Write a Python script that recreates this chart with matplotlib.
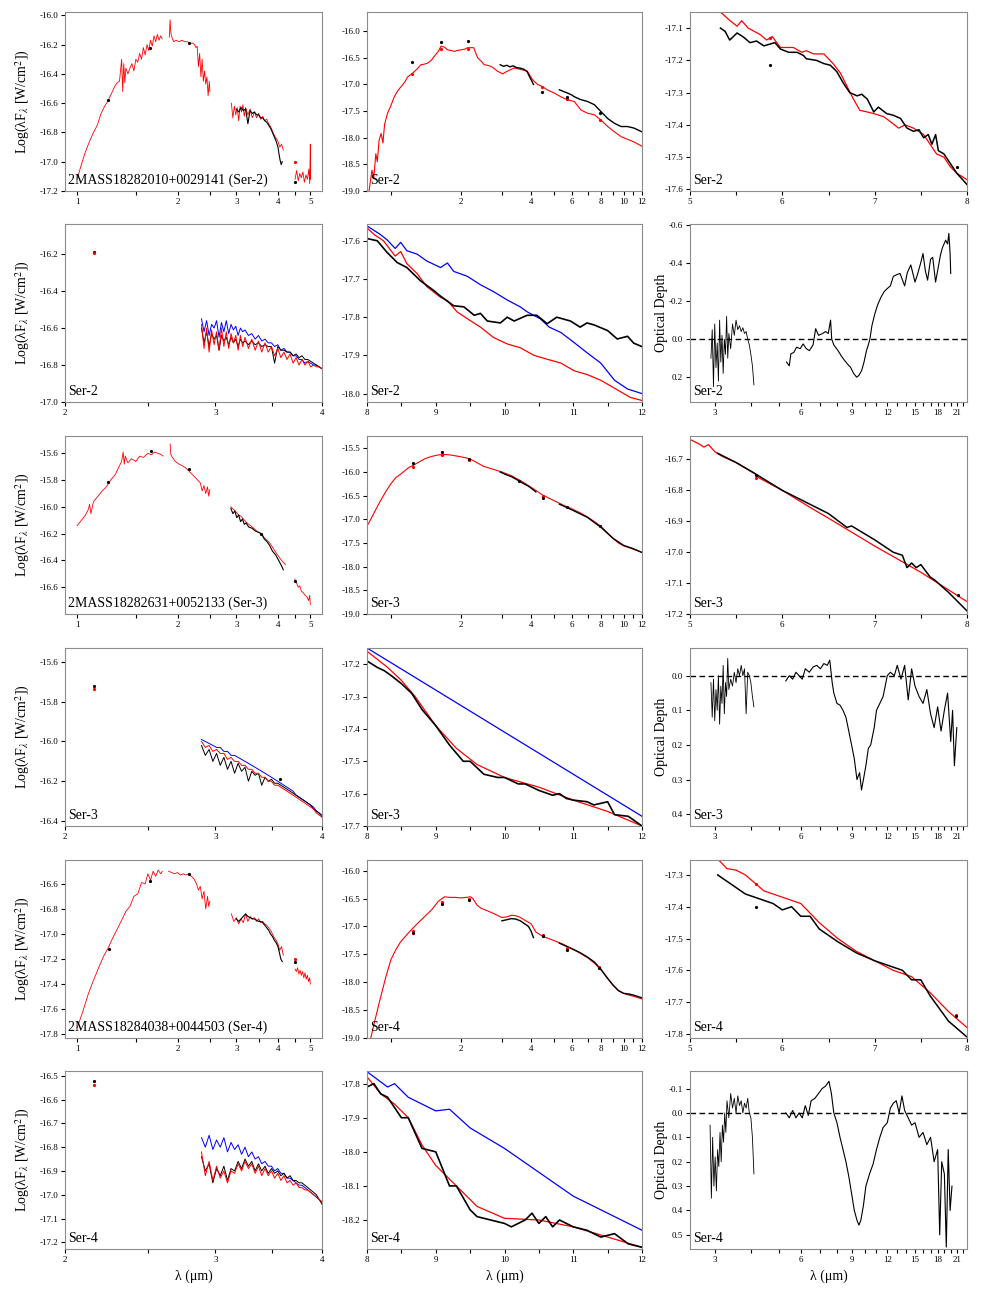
import matplotlib
matplotlib.use('Agg')
import matplotlib.pyplot as plt
from matplotlib.ticker import NullLocator

plt.rcParams['font.family'] = ['Liberation Serif', 'DejaVu Serif']
plt.rcParams['mathtext.fontset'] = 'stix'
plt.rcParams['axes.unicode_minus'] = False

RED, BLUE, BLK = '#ff0000', '#0000ff', 'black'

# ---------------- Ser-2 ----------------
# near-IR spectrum (panel 1,1)
s2_j_wl = [1.00, 1.03, 1.06, 1.09, 1.12, 1.15, 1.18, 1.21, 1.24, 1.27, 1.30, 1.32, 1.34, 1.36, 1.37, 1.38, 1.39, 1.40, 1.42, 1.44,
           1.46, 1.48, 1.50, 1.52, 1.54, 1.56, 1.58, 1.60, 1.62, 1.64, 1.66, 1.68, 1.70, 1.72, 1.74, 1.76, 1.78, 1.80]
s2_j_fl = [-17.12, -17.02, -16.93, -16.86, -16.80, -16.75, -16.67, -16.62, -16.58, -16.53, -16.48, -16.46, -16.45, -16.30, -16.52, -16.33, -16.46, -16.36, -16.40, -16.36,
           -16.33, -16.38, -16.30, -16.32, -16.26, -16.30, -16.22, -16.27, -16.20, -16.24, -16.17, -16.21, -16.14, -16.18, -16.13, -16.17, -16.14, -16.16]
s2_k_wl = [1.89, 1.90, 1.91, 1.93, 1.95, 1.98, 2.02, 2.06, 2.10, 2.14, 2.18, 2.22, 2.25, 2.27, 2.29, 2.31, 2.33, 2.35, 2.37, 2.39,
           2.41, 2.43, 2.45, 2.47, 2.49, 2.50]
s2_k_fl = [-16.15, -16.03, -16.12, -16.16, -16.18, -16.17, -16.18, -16.17, -16.18, -16.18, -16.19, -16.19, -16.20, -16.22, -16.21, -16.35, -16.26, -16.42, -16.30, -16.45,
           -16.38, -16.47, -16.42, -16.55, -16.45, -16.52]
s2_l_wl = [2.90, 2.93, 2.96, 2.99, 3.02, 3.05, 3.08, 3.11, 3.14, 3.17, 3.20, 3.25, 3.30, 3.35, 3.40, 3.45, 3.50, 3.55, 3.60, 3.65,
           3.70, 3.75, 3.80, 3.85, 3.90, 3.95, 4.00, 4.05, 4.10, 4.15]
s2_l_fl = [-16.60, -16.70, -16.62, -16.68, -16.63, -16.72, -16.62, -16.66, -16.61, -16.69, -16.63, -16.68, -16.64, -16.70, -16.66, -16.70, -16.67, -16.71, -16.69, -16.72,
           -16.71, -16.74, -16.76, -16.79, -16.82, -16.84, -16.86, -16.90, -16.88, -16.92]
s2_lb_wl = [3.00, 3.05, 3.10, 3.15, 3.20, 3.25, 3.30, 3.35, 3.40, 3.45, 3.50, 3.55, 3.60, 3.65, 3.70, 3.75, 3.80, 3.85, 3.90, 3.95,
            4.00, 4.03, 4.06, 4.09, 4.12]
s2_lb_fl = [-16.64, -16.66, -16.63, -16.65, -16.64, -16.74, -16.65, -16.67, -16.66, -16.68, -16.68, -16.70, -16.70, -16.72, -16.73, -16.75, -16.77, -16.80, -16.83, -16.86,
            -16.90, -16.95, -16.99, -17.02, -17.00]
s2_m_wl = [4.50, 4.55, 4.60, 4.65, 4.70, 4.75, 4.80, 4.85, 4.90, 4.95, 4.98, 5.00, 5.01]
s2_m_fl = [-17.12, -17.06, -17.13, -17.08, -17.11, -17.07, -17.14, -17.09, -17.12, -17.05, -17.15, -16.88, -17.12]
s2_nir_dot_wl = [1.235, 1.65, 2.17, 4.50]
s2_nir_dot_fl = [-16.58, -16.22, -16.19, -17.14]
s2_nir_rdot_wl = [4.50]
s2_nir_rdot_fl = [-17.00]

# full SED (panel 1,2)
s2_mod_wl = [0.806, 0.83, 0.845, 0.862, 0.875, 0.89, 0.909, 0.925, 0.94, 0.968, 1.0, 1.035, 1.07, 1.107, 1.15, 1.18, 1.232, 1.29, 1.346, 1.39,
             1.439, 1.49, 1.538, 1.6, 1.643, 1.70, 1.753, 1.81, 1.874, 1.94, 2.0, 2.07, 2.136, 2.2, 2.27, 2.36, 2.44, 2.52, 2.6, 2.69,
             2.78, 2.87, 3.02, 3.17, 3.39, 3.62, 3.86, 4.06, 4.27, 4.48, 4.7, 5.03, 5.37, 5.74, 6.14, 6.56, 7.0, 7.49, 8.0, 8.55,
             9.14, 9.76, 10.4, 11.1, 12.0]
s2_mod_fl = [-19.0, -18.61, -18.75, -18.30, -18.45, -18.05, -17.92, -18.1, -17.75, -17.54, -17.40, -17.23, -17.12, -17.04, -16.95, -16.86, -16.80, -16.72, -16.63, -16.62,
             -16.60, -16.55, -16.47, -16.38, -16.28, -16.30, -16.35, -16.36, -16.38, -16.36, -16.35, -16.34, -16.31, -16.31, -16.31, -16.50, -16.56, -16.63, -16.64, -16.66,
             -16.70, -16.75, -16.80, -16.75, -16.69, -16.72, -16.75, -16.91, -17.0, -17.04, -17.1, -17.16, -17.23, -17.29, -17.32, -17.48, -17.54, -17.57, -17.67, -17.79,
             -17.89, -17.98, -18.03, -18.08, -18.16]
s2_sed_l_wl = [2.95, 3.05, 3.15, 3.25, 3.35, 3.45, 3.55, 3.65, 3.75, 3.85, 3.95, 4.05, 4.10]
s2_sed_l_fl = [-16.63, -16.66, -16.64, -16.67, -16.65, -16.68, -16.69, -16.70, -16.72, -16.76, -16.86, -16.95, -17.0]
s2_irs_wl = [5.3, 5.5, 5.74, 6.0, 6.14, 6.5, 7.0, 7.49, 8.0, 8.55, 9.14, 9.76, 10.4, 11.1, 12.0]
s2_irs_fl = [-17.10, -17.13, -17.16, -17.20, -17.23, -17.28, -17.32, -17.38, -17.51, -17.64, -17.73, -17.79, -17.79, -17.82, -17.89]
s2_sed_dot_wl = [1.232, 1.643, 2.15, 4.48, 5.74, 7.9]
s2_sed_dot_fl = [-16.58, -16.21, -16.19, -17.14, -17.23, -17.54]
s2_sed_rdot_fl = [-16.80, -16.33, -16.33, -17.04, -17.27, -17.67]

# 5-8 micron (panel 1,3)
s2_58_rwl = [5.33, 5.43, 5.51, 5.56, 5.63, 5.76, 5.83, 5.89, 5.98, 6.12, 6.21, 6.26, 6.34, 6.45, 6.55, 6.63, 6.70, 6.77, 6.84, 6.92,
             6.99, 7.1, 7.17, 7.26, 7.33, 7.42, 7.53, 7.6, 7.67, 7.75, 7.82, 7.89, 8.0]
s2_58_rfl = [-17.05, -17.076, -17.094, -17.077, -17.10, -17.12, -17.137, -17.126, -17.16, -17.16, -17.175, -17.17, -17.18, -17.18, -17.21, -17.24, -17.28, -17.32, -17.355, -17.36,
             -17.365, -17.375, -17.39, -17.41, -17.40, -17.41, -17.43, -17.46, -17.49, -17.50, -17.53, -17.55, -17.57]
s2_58_bwl = [5.33, 5.38, 5.43, 5.51, 5.58, 5.65, 5.72, 5.80, 5.92, 5.98, 6.07, 6.16, 6.23, 6.26, 6.37, 6.45, 6.52, 6.59, 6.66, 6.73,
             6.81, 6.86, 6.92, 6.99, 7.04, 7.13, 7.2, 7.28, 7.35, 7.42, 7.48, 7.53, 7.58, 7.62, 7.66, 7.69, 7.75, 7.82, 7.89, 8.0]
s2_58_bfl = [-17.10, -17.11, -17.137, -17.115, -17.128, -17.145, -17.14, -17.155, -17.145, -17.165, -17.175, -17.175, -17.185, -17.195, -17.20, -17.21, -17.215, -17.235, -17.27, -17.30,
             -17.31, -17.305, -17.32, -17.36, -17.345, -17.365, -17.37, -17.38, -17.41, -17.42, -17.415, -17.44, -17.43, -17.46, -17.43, -17.48, -17.49, -17.52, -17.55, -17.585]
s2_58_dot_wl = [5.87, 7.89]
s2_58_dot_fl = [-17.215, -17.53]
s2_58_rdot_wl = [5.87]
s2_58_rdot_fl = [-17.13]

# 2-4 micron zoom (panel 2,1)
s2z_wl = [2.89, 2.91, 2.93, 2.95, 2.97, 2.99, 3.01, 3.03, 3.05, 3.07, 3.09, 3.11, 3.13, 3.15, 3.17, 3.19, 3.21, 3.23, 3.25, 3.28,
          3.31, 3.34, 3.37, 3.40, 3.43, 3.46, 3.49, 3.52, 3.55, 3.58, 3.61, 3.64, 3.67, 3.70, 3.73, 3.76, 3.79, 3.82, 3.85, 3.88,
          3.91, 3.94, 3.97, 4.00]
s2z_blue = [-16.55, -16.62, -16.56, -16.64, -16.58, -16.60, -16.56, -16.65, -16.57, -16.62, -16.56, -16.63, -16.58, -16.61, -16.59, -16.64, -16.60, -16.62, -16.61, -16.64,
            -16.63, -16.66, -16.64, -16.67, -16.66, -16.68, -16.68, -16.70, -16.69, -16.72, -16.71, -16.73, -16.73, -16.75, -16.75, -16.77, -16.77, -16.79, -16.78, -16.79,
            -16.80, -16.80, -16.81, -16.82]
s2z_red = [-16.58, -16.71, -16.60, -16.73, -16.61, -16.69, -16.62, -16.72, -16.60, -16.70, -16.62, -16.71, -16.63, -16.68, -16.64, -16.72, -16.64, -16.70, -16.65, -16.71,
           -16.66, -16.72, -16.67, -16.73, -16.68, -16.73, -16.70, -16.75, -16.71, -16.76, -16.73, -16.77, -16.74, -16.79, -16.76, -16.80, -16.77, -16.80, -16.78, -16.81,
           -16.80, -16.81, -16.81, -16.82]
s2z_black = [-16.60, -16.68, -16.62, -16.70, -16.63, -16.66, -16.64, -16.72, -16.64, -16.67, -16.65, -16.69, -16.65, -16.68, -16.66, -16.70, -16.66, -16.68, -16.67, -16.69,
             -16.67, -16.69, -16.68, -16.70, -16.69, -16.70, -16.70, -16.79, -16.70, -16.72, -16.72, -16.73, -16.73, -16.75, -16.74, -16.76, -16.75, -16.77, -16.77, -16.78,
             -16.79, -16.80, -16.81, -16.82]
s2z_dot = (2.16, -16.19)
s2z_rdot = (2.16, -16.195)

# 8-12 micron (panel 2,2)
s2_812_bwl = [8.0, 8.19, 8.29, 8.41, 8.49, 8.58, 8.73, 8.87, 9.07, 9.17, 9.26, 9.46, 9.65, 9.84, 10.04, 10.23, 10.33, 10.52, 10.65, 10.82,
              11.01, 11.2, 11.4, 11.6, 11.79, 12.0]
s2_812_blue = [-17.561, -17.583, -17.597, -17.62, -17.604, -17.626, -17.635, -17.653, -17.67, -17.658, -17.68, -17.693, -17.715, -17.733, -17.755, -17.773, -17.786, -17.804, -17.826, -17.84,
               -17.866, -17.893, -17.92, -17.965, -17.988, -18.0]
s2_812_rwl = [8.0, 8.1, 8.24, 8.41, 8.49, 8.58, 8.73, 8.87, 9.07, 9.17, 9.31, 9.46, 9.65, 9.84, 10.04, 10.23, 10.43, 10.62, 10.82, 11.01,
              11.2, 11.4, 11.64, 11.83, 12.0]
s2_812_red = [-17.566, -17.583, -17.60, -17.64, -17.628, -17.66, -17.686, -17.72, -17.748, -17.757, -17.786, -17.804, -17.826, -17.853, -17.87, -17.88, -17.90, -17.91, -17.92, -17.94,
              -17.95, -17.965, -17.99, -18.01, -18.018]
s2_812_kwl = [8.0, 8.15, 8.29, 8.44, 8.58, 8.78, 8.97, 9.07, 9.26, 9.41, 9.56, 9.65, 9.75, 9.94, 10.04, 10.14, 10.33, 10.47, 10.62, 10.76,
              10.96, 11.1, 11.2, 11.3, 11.5, 11.64, 11.79, 11.88, 12.0]
s2_812_black = [-17.594, -17.60, -17.63, -17.657, -17.67, -17.705, -17.73, -17.745, -17.77, -17.773, -17.795, -17.79, -17.81, -17.815, -17.80, -17.81, -17.795, -17.795, -17.817, -17.80,
                -17.81, -17.826, -17.815, -17.82, -17.835, -17.857, -17.85, -17.868, -17.877]

# optical depth (panel 2,3)
s2_tau1_wl = [2.90, 2.93, 2.96, 2.99, 3.02, 3.05, 3.08, 3.11, 3.14, 3.17, 3.20, 3.23, 3.26, 3.29, 3.32, 3.35, 3.40, 3.45, 3.50, 3.55,
              3.60, 3.65, 3.70, 3.75, 3.80, 3.85, 3.90, 3.95, 4.00, 4.05, 4.10]
s2_tau1 = [0.10, -0.05, 0.25, -0.08, 0.15, 0.02, 0.22, -0.10, 0.12, -0.02, 0.18, 0.0, 0.08, -0.12, 0.10, -0.03, 0.05, -0.08, -0.02, -0.10,
           -0.05, -0.07, -0.04, -0.06, -0.03, -0.04, 0.0, 0.03, 0.08, 0.14, 0.24]
s2_tau2_wl = [5.33, 5.45, 5.52, 5.65, 5.78, 5.95, 6.09, 6.25, 6.41, 6.6, 6.74, 6.9, 7.09, 7.3, 7.46, 7.6, 7.67, 7.8, 8.07, 8.3,
              8.49, 8.7, 8.92, 9.15, 9.38, 9.55, 9.76, 9.95, 10.15, 10.3, 10.43, 10.6, 10.84, 11.1, 11.4, 11.7, 12.0, 12.3, 12.6, 13.0,
              13.3, 13.8, 14.1, 14.5, 15.0, 15.3, 15.7, 16.0, 16.3, 16.6, 17.0, 17.3, 17.7, 18.0, 18.4, 18.7, 19.2, 19.5, 19.7, 19.9,
              20.0]
s2_tau2 = [0.12, 0.14, 0.077, 0.07, 0.042, 0.05, 0.025, 0.05, 0.06, 0.03, -0.055, -0.02, -0.028, -0.04, -0.03, -0.10, 0.0, 0.03, 0.06, 0.09,
           0.11, 0.13, 0.147, 0.18, 0.20, 0.19, 0.165, 0.12, 0.06, 0.03, 0.0, -0.07, -0.13, -0.18, -0.22, -0.25, -0.266, -0.28, -0.33, -0.34,
           -0.345, -0.28, -0.35, -0.39, -0.30, -0.34, -0.40, -0.45, -0.36, -0.31, -0.42, -0.43, -0.30, -0.36, -0.44, -0.48, -0.52, -0.50, -0.556, -0.45,
           -0.345]

# ---------------- Ser-3 ----------------
s3_j_wl = [1.00, 1.03, 1.06, 1.08, 1.09, 1.10, 1.12, 1.155, 1.19, 1.224, 1.26, 1.30, 1.335, 1.36, 1.374, 1.385, 1.394, 1.42, 1.455, 1.50,
           1.54, 1.58, 1.63, 1.67, 1.706, 1.75, 1.79, 1.81]
s3_j_fl = [-16.14, -16.10, -16.06, -16.02, -15.98, -16.05, -15.96, -15.92, -15.88, -15.85, -15.80, -15.76, -15.70, -15.66, -15.59, -15.68, -15.62, -15.67, -15.64, -15.66,
           -15.62, -15.63, -15.60, -15.61, -15.59, -15.60, -15.61, -15.62]
s3_k_wl = [1.90, 1.91, 1.93, 1.97, 2.02, 2.06, 2.12, 2.18, 2.24, 2.30, 2.34, 2.37, 2.40, 2.43, 2.46, 2.48, 2.50]
s3_k_fl = [-15.53, -15.61, -15.63, -15.66, -15.68, -15.69, -15.71, -15.74, -15.77, -15.80, -15.82, -15.88, -15.84, -15.90, -15.85, -15.92, -15.87]
s3_l_wl = [2.89, 2.95, 3.00, 3.05, 3.10, 3.15, 3.20, 3.27, 3.35, 3.42, 3.50, 3.57, 3.64, 3.71, 3.78, 3.85, 3.94, 4.02, 4.10, 4.21]
s3_l_fl = [-16.00, -16.02, -16.04, -16.06, -16.07, -16.09, -16.11, -16.13, -16.15, -16.17, -16.19, -16.20, -16.23, -16.25, -16.27, -16.30, -16.34, -16.37, -16.40, -16.43]
s3_lb_wl = [2.89, 2.93, 2.97, 3.01, 3.05, 3.09, 3.13, 3.17, 3.21, 3.27, 3.35, 3.42, 3.50, 3.57, 3.64, 3.71, 3.78, 3.85, 3.94, 4.02,
            4.10, 4.15]
s3_lb_fl = [-16.01, -16.05, -16.03, -16.08, -16.06, -16.11, -16.09, -16.13, -16.12, -16.15, -16.16, -16.18, -16.19, -16.20, -16.24, -16.26, -16.29, -16.33, -16.36, -16.40,
            -16.44, -16.47]
s3_m_wl = [4.49, 4.55, 4.60, 4.65, 4.70, 4.76, 4.82, 4.88, 4.94, 4.98, 5.00]
s3_m_fl = [-16.54, -16.57, -16.60, -16.59, -16.63, -16.64, -16.66, -16.67, -16.70, -16.66, -16.73]
s3_nir_dot_wl = [1.24, 1.66, 2.16, 3.57, 4.49]
s3_nir_dot_fl = [-15.81, -15.58, -15.72, -16.20, -16.55]

s3_mod_wl = [0.80, 0.85, 0.90, 0.95, 1.00, 1.05, 1.10, 1.15, 1.20, 1.25, 1.30, 1.40, 1.50, 1.60, 1.70, 1.80, 1.90, 2.00, 2.10, 2.20,
             2.30, 2.50, 2.70, 3.00, 3.30, 3.60, 4.00, 4.50, 5.00, 5.50, 6.00, 6.50, 7.00, 7.50, 8.00, 8.50, 9.00, 9.50, 10.0, 11.0,
             12.0]
s3_mod_fl = [-17.10, -16.85, -16.62, -16.42, -16.25, -16.12, -16.05, -15.97, -15.90, -15.86, -15.81, -15.72, -15.67, -15.64, -15.63, -15.64, -15.66, -15.68, -15.70, -15.73,
             -15.78, -15.88, -15.93, -16.00, -16.08, -16.18, -16.32, -16.49, -16.60, -16.70, -16.78, -16.86, -16.95, -17.05, -17.15, -17.28, -17.40, -17.50, -17.56, -17.63,
             -17.70]
s3_sed_l_wl = [2.95, 3.1, 3.3, 3.5, 3.7, 3.9, 4.1, 4.2]
s3_sed_l_fl = [-16.0, -16.05, -16.1, -16.17, -16.24, -16.3, -16.38, -16.42]
s3_irs_wl = [5.3, 6.0, 7.0, 8.0, 9.0, 10.0, 11.0, 12.0]
s3_irs_fl = [-16.68, -16.80, -16.96, -17.17, -17.40, -17.55, -17.62, -17.70]
s3_sed_dot_wl = [1.25, 1.66, 2.16, 3.57, 4.49, 5.72, 7.9]
s3_sed_dot_fl = [-15.82, -15.58, -15.72, -16.19, -16.55, -16.75, -17.14]
s3_sed_rdot_wl = [1.25, 1.66, 2.16, 4.49]
s3_sed_rdot_fl = [-15.90, -15.65, -15.75, -16.50]

s3_58_rwl = [5.0, 5.1, 5.15, 5.2, 5.27, 5.35, 5.5, 5.7, 5.75, 6.0, 6.3, 6.5, 7.0, 7.5, 8.0]
s3_58_rfl = [-16.635, -16.65, -16.66, -16.652, -16.675, -16.69, -16.71, -16.745, -16.76, -16.80, -16.855, -16.89, -16.98, -17.065, -17.16]
s3_58_bwl = [5.3, 5.5, 5.7, 6.0, 6.3, 6.5, 6.7, 6.75, 7.0, 7.1, 7.2, 7.3, 7.35, 7.4, 7.45, 7.5, 7.55, 7.6, 7.65, 7.8,
             8.0]
s3_58_bfl = [-16.68, -16.71, -16.745, -16.80, -16.845, -16.875, -16.92, -16.915, -16.96, -16.98, -17.0, -17.01, -17.05, -17.035, -17.05, -17.04, -17.06, -17.08, -17.09, -17.13,
             -17.19]
s3_58_dot_wl = [5.72, 7.9]
s3_58_dot_fl = [-16.75, -17.14]
s3_58_rdot_wl = [5.72]
s3_58_rdot_fl = [-16.76]

s3z_wl = [2.89, 2.92, 2.95, 2.98, 3.01, 3.04, 3.07, 3.10, 3.13, 3.16, 3.19, 3.22, 3.25, 3.28, 3.31, 3.34, 3.37, 3.40, 3.43, 3.46,
          3.49, 3.52, 3.55, 3.58, 3.61, 3.64, 3.67, 3.70, 3.73, 3.76, 3.79, 3.82, 3.85, 3.88, 3.91, 3.94, 3.97, 4.00]
s3z_blue = [-15.99, -16.00, -16.01, -16.02, -16.03, -16.03, -16.05, -16.05, -16.07, -16.07, -16.08, -16.09, -16.10, -16.11, -16.12, -16.13, -16.14, -16.15, -16.16, -16.17,
            -16.18, -16.19, -16.20, -16.21, -16.22, -16.23, -16.24, -16.25, -16.27, -16.28, -16.29, -16.30, -16.31, -16.32, -16.33, -16.35, -16.36, -16.37]
s3z_red = [-16.00, -16.03, -16.02, -16.05, -16.04, -16.06, -16.06, -16.09, -16.08, -16.10, -16.10, -16.12, -16.12, -16.14, -16.14, -16.16, -16.16, -16.18, -16.18, -16.20,
           -16.20, -16.22, -16.22, -16.23, -16.24, -16.25, -16.26, -16.27, -16.28, -16.29, -16.30, -16.31, -16.32, -16.33, -16.34, -16.36, -16.37, -16.38]
s3z_black = [-16.02, -16.07, -16.04, -16.10, -16.06, -16.12, -16.08, -16.14, -16.10, -16.16, -16.11, -16.15, -16.13, -16.20, -16.15, -16.17, -16.16, -16.22, -16.18, -16.20,
             -16.19, -16.21, -16.21, -16.22, -16.23, -16.24, -16.25, -16.26, -16.27, -16.28, -16.29, -16.30, -16.31, -16.32, -16.34, -16.35, -16.36, -16.38]
s3z_dot_wl = [2.16, 3.57]
s3z_dot_fl = [-15.72, -16.19]
s3z_rdot = (2.16, -15.735)

s3_812_bwl = [8.0, 12.0]
s3_812_blue = [-17.15, -17.67]
s3_812_rwl = [8.0, 8.3, 8.5, 8.7, 9.0, 9.3, 9.6, 10.0, 10.5, 11.0, 11.5, 12.0]
s3_812_red = [-17.16, -17.21, -17.25, -17.30, -17.39, -17.46, -17.51, -17.55, -17.58, -17.62, -17.655, -17.70]
s3_812_kwl = [8.0, 8.15, 8.25, 8.35, 8.5, 8.65, 8.8, 9.0, 9.2, 9.4, 9.5, 9.7, 9.9, 10.0, 10.2, 10.3, 10.5, 10.7, 10.8, 10.9,
              11.0, 11.2, 11.3, 11.4, 11.5, 11.6, 11.8, 12.0]
s3_812_black = [-17.19, -17.21, -17.22, -17.235, -17.26, -17.29, -17.34, -17.39, -17.45, -17.50, -17.50, -17.54, -17.55, -17.55, -17.57, -17.57, -17.59, -17.605, -17.60, -17.615,
                -17.62, -17.625, -17.635, -17.63, -17.625, -17.665, -17.67, -17.70]

s3_tau1_wl = [2.90, 2.93, 2.96, 2.99, 3.02, 3.05, 3.08, 3.11, 3.14, 3.17, 3.20, 3.23, 3.26, 3.29, 3.32, 3.35, 3.40, 3.45, 3.50, 3.55,
              3.60, 3.65, 3.70, 3.75, 3.80, 3.85, 3.90, 3.95, 4.00, 4.05, 4.10]
s3_tau1 = [0.02, 0.12, 0.01, 0.13, 0.04, 0.10, 0.0, 0.14, 0.03, 0.08, -0.03, 0.11, 0.02, 0.06, -0.05, 0.04, 0.01, 0.03, -0.01, 0.02,
           -0.02, 0.0, -0.03, 0.0, -0.02, 0.11, -0.01, 0.0, 0.02, 0.06, 0.09]
s3_tau2_wl = [5.3, 5.45, 5.6, 5.75, 5.9, 6.05, 6.2, 6.4, 6.6, 6.8, 7.0, 7.2, 7.4, 7.55, 7.7, 7.8, 8.0, 8.2, 8.4, 8.6,
              8.8, 9.0, 9.2, 9.4, 9.6, 9.75, 9.9, 10.1, 10.3, 10.5, 10.8, 11.0, 11.3, 11.6, 12.0, 12.3, 12.7, 13.0, 13.4, 13.8,
              14.2, 14.6, 15.0, 15.5, 16.0, 16.5, 17.0, 17.5, 18.0, 18.5, 19.0, 19.5, 20.0, 20.3, 20.6, 21.0]
s3_tau2 = [0.015, 0.0, 0.01, -0.01, 0.0, 0.01, -0.02, -0.01, -0.025, -0.03, -0.02, -0.035, -0.03, -0.045, 0.02, 0.05, 0.08, 0.085, 0.10, 0.12,
           0.16, 0.20, 0.24, 0.30, 0.28, 0.33, 0.30, 0.26, 0.21, 0.20, 0.15, 0.10, 0.08, 0.06, 0.0, -0.01, 0.0, -0.03, 0.01, -0.03,
           0.07, -0.02, 0.03, 0.06, 0.08, 0.04, 0.11, 0.15, 0.09, 0.16, 0.10, 0.05, 0.19, 0.10, 0.26, 0.15]

# ---------------- Ser-4 ----------------
s4_j_wl = [1.00, 1.04, 1.08, 1.12, 1.16, 1.20, 1.24, 1.28, 1.32, 1.36, 1.40, 1.44, 1.48, 1.52, 1.56, 1.60, 1.63, 1.66, 1.69, 1.72,
           1.75, 1.78, 1.80]
s4_j_fl = [-17.75, -17.62, -17.48, -17.37, -17.27, -17.18, -17.11, -17.03, -16.96, -16.89, -16.82, -16.78, -16.70, -16.68, -16.59, -16.60, -16.52, -16.57, -16.50, -16.54,
           -16.49, -16.52, -16.50]
s4_k_wl = [1.88, 1.92, 1.96, 2.00, 2.04, 2.08, 2.12, 2.16, 2.20, 2.24, 2.28, 2.31, 2.34, 2.37, 2.40, 2.43, 2.46, 2.48, 2.50]
s4_k_fl = [-16.50, -16.51, -16.52, -16.51, -16.53, -16.52, -16.53, -16.52, -16.54, -16.56, -16.60, -16.65, -16.62, -16.72, -16.66, -16.80, -16.70, -16.78, -16.74]
s4_l_wl = [2.90, 2.95, 3.00, 3.05, 3.10, 3.15, 3.20, 3.25, 3.30, 3.35, 3.40, 3.45, 3.50, 3.55, 3.60, 3.65, 3.70, 3.75, 3.80, 3.85,
           3.90, 3.95, 4.00, 4.05, 4.10, 4.15]
s4_l_fl = [-16.84, -16.90, -16.87, -16.92, -16.88, -16.91, -16.84, -16.90, -16.86, -16.88, -16.87, -16.90, -16.88, -16.91, -16.90, -16.92, -16.93, -16.95, -16.97, -17.00,
           -17.03, -17.05, -17.08, -17.13, -17.10, -17.17]
s4_lb_wl = [3.00, 3.05, 3.10, 3.15, 3.20, 3.25, 3.30, 3.35, 3.40, 3.45, 3.50, 3.55, 3.60, 3.65, 3.70, 3.75, 3.80, 3.85, 3.90, 3.95,
            4.00, 4.04, 4.08, 4.12]
s4_lb_fl = [-16.88, -16.90, -16.88, -16.86, -16.84, -16.86, -16.87, -16.88, -16.88, -16.89, -16.90, -16.90, -16.91, -16.93, -16.95, -16.97, -17.00, -17.02, -17.05, -17.07,
            -17.10, -17.15, -17.20, -17.22]
s4_m_wl = [4.50, 4.54, 4.58, 4.62, 4.66, 4.70, 4.74, 4.78, 4.82, 4.86, 4.90, 4.94, 4.98, 5.00]
s4_m_fl = [-17.28, -17.30, -17.27, -17.32, -17.29, -17.33, -17.30, -17.35, -17.31, -17.36, -17.33, -17.38, -17.35, -17.40]
s4_nir_dot_wl = [1.25, 1.65, 2.16, 4.50]
s4_nir_dot_fl = [-17.12, -16.58, -16.52, -17.22]
s4_nir_rdot_wl = [4.50]
s4_nir_rdot_fl = [-17.20]

s4_mod_wl = [0.82, 0.85, 0.90, 0.95, 1.00, 1.05, 1.10, 1.20, 1.30, 1.40, 1.50, 1.60, 1.70, 1.80, 1.90, 2.00, 2.10, 2.20, 2.25, 2.35,
             2.45, 2.60, 2.80, 3.00, 3.15, 3.30, 3.45, 3.60, 3.80, 4.00, 4.20, 4.50, 5.00, 5.50, 6.00, 6.50, 7.00, 7.50, 8.00, 8.50,
             9.00, 9.50, 10.0, 10.5, 11.0, 12.0]
s4_mod_fl = [-19.0, -18.72, -18.30, -17.92, -17.60, -17.42, -17.28, -17.10, -16.95, -16.82, -16.70, -16.55, -16.47, -16.48, -16.48, -16.49, -16.48, -16.47, -16.50, -16.62,
             -16.68, -16.72, -16.78, -16.84, -16.83, -16.80, -16.81, -16.84, -16.90, -16.95, -17.10, -17.18, -17.25, -17.32, -17.40, -17.48, -17.56, -17.66, -17.78, -17.92,
             -18.05, -18.15, -18.20, -18.23, -18.25, -18.30]
s4_sed_l_wl = [3.0, 3.15, 3.3, 3.45, 3.6, 3.75, 3.9, 4.0, 4.1]
s4_sed_l_fl = [-16.90, -16.88, -16.86, -16.87, -16.90, -16.95, -17.0, -17.08, -17.2]
s4_irs_wl = [5.3, 5.7, 6.0, 6.5, 7.0, 7.5, 8.0, 8.5, 9.0, 9.5, 10.0, 10.5, 11.0, 12.0]
s4_irs_fl = [-17.30, -17.36, -17.40, -17.47, -17.55, -17.64, -17.77, -17.92, -18.05, -18.15, -18.20, -18.21, -18.23, -18.28]
s4_sed_dot_wl = [1.25, 1.66, 2.16, 4.50, 5.72, 7.88]
s4_sed_dot_fl = [-17.12, -16.60, -16.53, -17.18, -17.42, -17.75]
s4_sed_rdot_fl = [-17.08, -16.56, -16.50, -17.15, -17.38, -17.73]

s4_58_rwl = [5.3, 5.4, 5.5, 5.6, 5.72, 5.8, 6.0, 6.2, 6.4, 6.6, 6.8, 7.0, 7.2, 7.4, 7.6, 7.8, 8.0]
s4_58_rfl = [-17.25, -17.28, -17.285, -17.30, -17.33, -17.35, -17.37, -17.39, -17.45, -17.50, -17.54, -17.57, -17.60, -17.62, -17.67, -17.73, -17.78]
s4_58_bwl = [5.3, 5.4, 5.5, 5.6, 5.7, 5.8, 5.9, 6.0, 6.1, 6.2, 6.3, 6.4, 6.6, 6.8, 7.0, 7.2, 7.3, 7.4, 7.5, 7.6,
             7.7, 7.8, 8.0]
s4_58_bfl = [-17.30, -17.32, -17.34, -17.36, -17.37, -17.38, -17.39, -17.41, -17.40, -17.43, -17.43, -17.47, -17.51, -17.545, -17.57, -17.59, -17.60, -17.63, -17.63, -17.68,
             -17.72, -17.76, -17.81]
s4_58_dot_wl = [5.72, 7.88]
s4_58_dot_fl = [-17.40, -17.745]
s4_58_rdot_fl = [-17.33, -17.74]

s4z_wl = [2.89, 2.92, 2.95, 2.98, 3.01, 3.04, 3.07, 3.10, 3.13, 3.16, 3.19, 3.22, 3.25, 3.28, 3.31, 3.34, 3.37, 3.40, 3.43, 3.46,
          3.49, 3.52, 3.55, 3.58, 3.61, 3.64, 3.67, 3.70, 3.73, 3.76, 3.79, 3.82, 3.85, 3.88, 3.91, 3.94, 3.97, 4.00]
s4z_blue = [-16.76, -16.80, -16.75, -16.81, -16.77, -16.80, -16.76, -16.82, -16.78, -16.81, -16.79, -16.83, -16.80, -16.84, -16.82, -16.85, -16.84, -16.87, -16.86, -16.88,
            -16.88, -16.90, -16.89, -16.91, -16.91, -16.93, -16.93, -16.94, -16.95, -16.96, -16.96, -16.97, -16.98, -16.99, -17.00, -17.01, -17.02, -17.03]
s4z_red = [-16.82, -16.92, -16.86, -16.94, -16.88, -16.93, -16.90, -16.95, -16.90, -16.91, -16.87, -16.90, -16.86, -16.89, -16.87, -16.91, -16.88, -16.92, -16.89, -16.92,
           -16.90, -16.93, -16.91, -16.94, -16.92, -16.95, -16.94, -16.96, -16.95, -16.97, -16.97, -16.98, -16.98, -16.99, -17.00, -17.01, -17.02, -17.03]
s4z_black = [-16.84, -16.90, -16.87, -16.95, -16.89, -16.92, -16.88, -16.94, -16.89, -16.90, -16.86, -16.89, -16.85, -16.88, -16.86, -16.90, -16.87, -16.90, -16.88, -16.91,
             -16.89, -16.91, -16.90, -16.92, -16.91, -16.93, -16.92, -16.94, -16.94, -16.95, -16.95, -16.96, -16.97, -16.98, -16.99, -17.00, -17.02, -17.04]
s4z_dot = (2.16, -16.52)
s4z_rdot = (2.16, -16.54)

s4_812_bwl = [8.0, 8.3, 8.4, 8.6, 9.0, 9.2, 9.5, 10.0, 10.5, 11.0, 11.5, 12.0]
s4_812_blue = [-17.765, -17.81, -17.80, -17.84, -17.88, -17.875, -17.93, -17.99, -18.06, -18.13, -18.18, -18.23]
s4_812_rwl = [8.0, 8.2, 8.4, 8.6, 8.8, 9.0, 9.3, 9.6, 10.0, 10.5, 11.0, 11.5, 12.0]
s4_812_red = [-17.78, -17.83, -17.86, -17.90, -17.98, -18.04, -18.10, -18.16, -18.195, -18.20, -18.22, -18.25, -18.28]
s4_812_kwl = [8.0, 8.1, 8.2, 8.3, 8.5, 8.6, 8.8, 9.0, 9.2, 9.3, 9.5, 9.6, 9.8, 10.0, 10.1, 10.3, 10.4, 10.5, 10.6, 10.7,
              10.8, 11.0, 11.2, 11.4, 11.6, 11.8, 12.0]
s4_812_black = [-17.81, -17.80, -17.83, -17.84, -17.90, -17.90, -17.99, -18.00, -18.10, -18.10, -18.17, -18.19, -18.20, -18.21, -18.22, -18.20, -18.18, -18.21, -18.19, -18.22,
                -18.20, -18.22, -18.23, -18.25, -18.24, -18.27, -18.28]

s4_tau1_wl = [2.88, 2.91, 2.94, 2.97, 3.00, 3.03, 3.06, 3.09, 3.12, 3.15, 3.18, 3.21, 3.24, 3.27, 3.30, 3.35, 3.40, 3.45, 3.50, 3.55,
              3.60, 3.65, 3.70, 3.75, 3.80, 3.85, 3.90, 3.95, 4.00, 4.05, 4.10]
s4_tau1 = [0.05, 0.35, 0.10, 0.30, 0.18, 0.32, 0.15, 0.22, 0.08, 0.20, 0.05, 0.12, 0.0, 0.08, -0.05, 0.02, -0.08, -0.02, -0.06, 0.0,
           -0.07, -0.03, -0.05, 0.0, -0.04, -0.02, -0.06, 0.0, 0.02, 0.10, 0.25]
s4_tau2_wl = [5.3, 5.45, 5.6, 5.75, 5.9, 6.05, 6.2, 6.35, 6.5, 6.7, 6.9, 7.1, 7.3, 7.5, 7.65, 7.8, 8.0, 8.2, 8.4, 8.6,
              8.8, 9.0, 9.2, 9.4, 9.55, 9.7, 9.9, 10.1, 10.4, 10.7, 11.0, 11.3, 11.6, 12.0, 12.3, 12.6, 12.9, 13.2, 13.5, 13.8,
              14.2, 14.6, 15.0, 15.5, 16.0, 16.5, 17.0, 17.5, 18.0, 18.3, 18.6, 19.0, 19.3, 19.6, 19.9, 20.2]
s4_tau2 = [0.0, 0.02, -0.01, 0.02, 0.0, 0.02, -0.03, 0.01, -0.05, -0.06, -0.08, -0.10, -0.11, -0.13, -0.08, 0.0, 0.04, 0.10, 0.15, 0.20,
           0.26, 0.33, 0.40, 0.44, 0.46, 0.44, 0.38, 0.30, 0.25, 0.21, 0.15, 0.10, 0.06, 0.04, -0.02, -0.04, -0.05, 0.0, -0.07, -0.01,
           0.02, 0.05, 0.04, 0.10, 0.08, 0.13, 0.10, 0.20, 0.15, 0.50, 0.20, 0.25, 0.55, 0.15, 0.40, 0.30]

# ---------------- axes settings ----------------
nir_xticks = [1, 1.5, 2, 2.5, 3, 3.5, 4, 4.5, 5]
nir_xlabels = ['1', '', '2', '', '3', '', '4', '', '5']
sed_xticks = [1, 2, 3, 4, 5, 6, 7, 8, 9, 10, 11, 12]
sed_xlabels = ['', '2', '', '4', '', '6', '', '8', '', '10', '', '12']
z24_xticks = [2, 2.5, 3, 3.5, 4]
z24_xlabels = ['2', '', '3', '', '4']
x58_ticks = [5, 5.5, 6, 6.5, 7, 7.5, 8]
x58_labels = ['5', '', '6', '', '7', '', '8']
x812_ticks = [8, 8.5, 9, 9.5, 10, 10.5, 11, 11.5, 12]
x812_labels = ['8', '', '9', '', '10', '', '11', '', '12']
tau_xticks = list(range(3, 23))
tau_xlabels = ['3', '', '', '6', '', '', '9', '', '', '12', '', '', '15', '', '', '18', '', '', '21', '']

fig = plt.figure(figsize=(9.81, 12.95), dpi=100)
W, H = 981.0, 1295.0
col_x = [(65, 322), (367, 642), (690, 967)]
row_y = [(12, 191), (224, 402), (436, 614), (648, 826), (860, 1038), (1071, 1249)]


def make_ax(r, c):
    x0, x1 = col_x[c]
    y0, y1 = row_y[r]
    return fig.add_axes([x0 / W, 1 - y1 / H, (x1 - x0) / W, (y1 - y0) / H])


def style(ax, xscale, xlim, xt, xl, ylim, yt, label):
    ax.set_xscale(xscale)
    ax.set_xlim(xlim)
    ax.set_ylim(ylim)
    ax.set_xticks(xt)
    ax.set_xticklabels(xl)
    ax.xaxis.set_minor_locator(NullLocator())
    ax.set_yticks(yt)
    ax.set_yticklabels(['%.1f' % v for v in yt])
    ax.yaxis.set_minor_locator(NullLocator())
    ax.tick_params(direction='out', length=3, width=0.8, labelsize=6.5, pad=2)
    for s in ax.spines.values():
        s.set_color('0.55')
        s.set_linewidth(0.8)
    ax.text(0.012, 0.025, label, transform=ax.transAxes, fontsize=10, ha='left', va='bottom')


def flux_ylabel(ax):
    ax.set_ylabel('Log(λF$_{\\lambda}$ [W/cm$^{2}$])', fontsize=10)
    ax.yaxis.set_label_coords(-0.128, 0.5)


def tau_ylabel(ax):
    ax.set_ylabel('Optical Depth', fontsize=10)
    ax.yaxis.set_label_coords(-0.078, 0.5)


def dots(ax, wl, fl, color):
    ax.plot(wl, fl, 'o', color=color, ms=2.3, mec='none', zorder=5)


def nir_panel(r, segs, lsegs, bdots, rdots, ylim, yt, label):
    ax = make_ax(r, 0)
    for wl, fl in segs:
        ax.plot(wl, fl, color=RED, lw=0.6)
    for wl, fl in lsegs:
        ax.plot(wl, fl, color=BLK, lw=0.8)
    if rdots:
        dots(ax, rdots[0], rdots[1], RED)
    dots(ax, bdots[0], bdots[1], BLK)
    style(ax, 'log', (0.92, 5.42), nir_xticks, nir_xlabels, ylim, yt, label)
    flux_ylabel(ax)
    return ax


def sed_panel(r, mod, blks, bdots, rdots, ylim, label):
    ax = make_ax(r, 1)
    ax.plot(mod[0], mod[1], color=RED, lw=0.8)
    for wl, fl in blks:
        ax.plot(wl, fl, color=BLK, lw=1.0)
    dots(ax, rdots[0], rdots[1], RED)
    dots(ax, bdots[0], bdots[1], BLK)
    style(ax, 'log', (0.79, 12), sed_xticks, sed_xlabels, ylim,
          [-19.0, -18.5, -18.0, -17.5, -17.0, -16.5, -16.0, -15.5][:8 if ylim[1] > -15.5 else 7], label)
    return ax


def p58_panel(r, red, blk, bdots, rdots, ylim, yt, label):
    ax = make_ax(r, 2)
    ax.plot(red[0], red[1], color=RED, lw=0.9)
    ax.plot(blk[0], blk[1], color=BLK, lw=1.1)
    dots(ax, rdots[0], rdots[1], RED)
    dots(ax, bdots[0], bdots[1], BLK)
    style(ax, 'linear', (5, 8), x58_ticks, x58_labels, ylim, yt, label)
    return ax


def zoom_panel(r, wl, blue, black, red, bdots, rdots, ylim, yt, label):
    ax = make_ax(r, 0)
    ax.plot(wl, blue, color=BLUE, lw=0.7)
    ax.plot(wl, black, color=BLK, lw=0.7)
    ax.plot(wl, red, color=RED, lw=0.7)
    dots(ax, bdots[0], bdots[1], BLK)
    dots(ax, rdots[0], rdots[1], RED)
    style(ax, 'log', (2, 4), z24_xticks, z24_xlabels, ylim, yt, label)
    flux_ylabel(ax)
    return ax


def p812_panel(r, blue, red, black, ylim, yt, label):
    ax = make_ax(r, 1)
    ax.plot(blue[0], blue[1], color=BLUE, lw=0.9)
    ax.plot(red[0], red[1], color=RED, lw=0.9)
    ax.plot(black[0], black[1], color=BLK, lw=1.2)
    style(ax, 'linear', (8, 12), x812_ticks, x812_labels, ylim, yt, label)
    return ax


def tau_panel(r, seg1, seg2, ylim, yt, label):
    ax = make_ax(r, 2)
    ax.axhline(0, color=BLK, lw=1.0, ls=(0, (4, 2.5)))
    ax.plot(seg1[0], seg1[1], color=BLK, lw=0.6)
    ax.plot(seg2[0], seg2[1], color=BLK, lw=0.8)
    style(ax, 'log', (2.45, 22.8), tau_xticks, tau_xlabels, ylim, yt, label)
    tau_ylabel(ax)
    return ax


# Row 1-2: Ser-2
nir_panel(0, [(s2_j_wl, s2_j_fl), (s2_k_wl, s2_k_fl), (s2_l_wl, s2_l_fl), (s2_m_wl, s2_m_fl)],
          [(s2_lb_wl, s2_lb_fl)], (s2_nir_dot_wl, s2_nir_dot_fl), (s2_nir_rdot_wl, s2_nir_rdot_fl),
          (-17.2, -15.977), [-17.2, -17.0, -16.8, -16.6, -16.4, -16.2, -16.0], '2MASS18282010+0029141 (Ser-2)')
sed_panel(0, (s2_mod_wl, s2_mod_fl), [(s2_sed_l_wl, s2_sed_l_fl), (s2_irs_wl, s2_irs_fl)],
          (s2_sed_dot_wl, s2_sed_dot_fl), (s2_sed_dot_wl, s2_sed_rdot_fl), (-19.0, -15.64), 'Ser-2')
p58_panel(0, (s2_58_rwl, s2_58_rfl), (s2_58_bwl, s2_58_bfl), (s2_58_dot_wl, s2_58_dot_fl),
          (s2_58_rdot_wl, s2_58_rdot_fl), (-17.605, -17.05), [-17.6, -17.5, -17.4, -17.3, -17.2, -17.1], 'Ser-2')
zoom_panel(1, s2z_wl, s2z_blue, s2z_black, s2z_red, ([s2z_dot[0]], [s2z_dot[1]]), ([s2z_rdot[0]], [s2z_rdot[1]]),
           (-17.0, -16.037), [-17.0, -16.8, -16.6, -16.4, -16.2], 'Ser-2')
p812_panel(1, (s2_812_bwl, s2_812_blue), (s2_812_rwl, s2_812_red), (s2_812_kwl, s2_812_black),
           (-18.022, -17.556), [-18.0, -17.9, -17.8, -17.7, -17.6], 'Ser-2')
tau_panel(1, (s2_tau1_wl, s2_tau1), (s2_tau2_wl, s2_tau2), (0.33, -0.605), [-0.6, -0.4, -0.2, 0.0, 0.2], 'Ser-2')

# Row 3-4: Ser-3
nir_panel(2, [(s3_j_wl, s3_j_fl), (s3_k_wl, s3_k_fl), (s3_l_wl, s3_l_fl), (s3_m_wl, s3_m_fl)],
          [(s3_lb_wl, s3_lb_fl)], (s3_nir_dot_wl, s3_nir_dot_fl), None,
          (-16.8, -15.47), [-16.6, -16.4, -16.2, -16.0, -15.8, -15.6], '2MASS18282631+0052133 (Ser-3)')
sed_panel(2, (s3_mod_wl, s3_mod_fl), [(s3_sed_l_wl, s3_sed_l_fl), (s3_irs_wl, s3_irs_fl)],
          (s3_sed_dot_wl, s3_sed_dot_fl), (s3_sed_rdot_wl, s3_sed_rdot_fl), (-19.0, -15.24), 'Ser-3')
p58_panel(2, (s3_58_rwl, s3_58_rfl), (s3_58_bwl, s3_58_bfl), (s3_58_dot_wl, s3_58_dot_fl),
          (s3_58_rdot_wl, s3_58_rdot_fl), (-17.2, -16.624), [-17.2, -17.1, -17.0, -16.9, -16.8, -16.7], 'Ser-3')
zoom_panel(3, s3z_wl, s3z_blue, s3z_black, s3z_red, (s3z_dot_wl, s3z_dot_fl), ([s3z_rdot[0]], [s3z_rdot[1]]),
           (-16.425, -15.53), [-16.4, -16.2, -16.0, -15.8, -15.6], 'Ser-3')
p812_panel(3, (s3_812_bwl, s3_812_blue), (s3_812_rwl, s3_812_red), (s3_812_kwl, s3_812_black),
           (-17.7, -17.15), [-17.7, -17.6, -17.5, -17.4, -17.3, -17.2], 'Ser-3')
tau_panel(3, (s3_tau1_wl, s3_tau1), (s3_tau2_wl, s3_tau2), (0.434, -0.08), [0.0, 0.1, 0.2, 0.3, 0.4], 'Ser-3')

# Row 5-6: Ser-4
nir_panel(4, [(s4_j_wl, s4_j_fl), (s4_k_wl, s4_k_fl), (s4_l_wl, s4_l_fl), (s4_m_wl, s4_m_fl)],
          [(s4_lb_wl, s4_lb_fl)], (s4_nir_dot_wl, s4_nir_dot_fl), (s4_nir_rdot_wl, s4_nir_rdot_fl),
          (-17.83, -16.41), [-17.8, -17.6, -17.4, -17.2, -17.0, -16.8, -16.6], '2MASS18284038+0044503 (Ser-4)')
sed_panel(4, (s4_mod_wl, s4_mod_fl), [(s4_sed_l_wl, s4_sed_l_fl), (s4_irs_wl, s4_irs_fl)],
          (s4_sed_dot_wl, s4_sed_dot_fl), (s4_sed_dot_wl, s4_sed_rdot_fl), (-19.0, -15.81), 'Ser-4')
p58_panel(4, (s4_58_rwl, s4_58_rfl), (s4_58_bwl, s4_58_bfl), (s4_58_dot_wl, s4_58_dot_fl),
          (s4_58_dot_wl, s4_58_rdot_fl), (-17.813, -17.253), [-17.8, -17.7, -17.6, -17.5, -17.4, -17.3], 'Ser-4')
a1 = zoom_panel(5, s4z_wl, s4z_blue, s4z_black, s4z_red, ([s4z_dot[0]], [s4z_dot[1]]), ([s4z_rdot[0]], [s4z_rdot[1]]),
                (-17.228, -16.48), [-17.2, -17.1, -17.0, -16.9, -16.8, -16.7, -16.6, -16.5], 'Ser-4')
a2 = p812_panel(5, (s4_812_bwl, s4_812_blue), (s4_812_rwl, s4_812_red), (s4_812_kwl, s4_812_black),
                (-18.285, -17.763), [-18.2, -18.1, -18.0, -17.9, -17.8], 'Ser-4')
a3 = tau_panel(5, (s4_tau1_wl, s4_tau1), (s4_tau2_wl, s4_tau2), (0.558, -0.172),
               [-0.1, 0.0, 0.1, 0.2, 0.3, 0.4, 0.5], 'Ser-4')
for a in (a1, a2, a3):
    a.set_xlabel('λ (μm)', fontsize=10, labelpad=4)

fig.savefig('out.png', dpi=100)
